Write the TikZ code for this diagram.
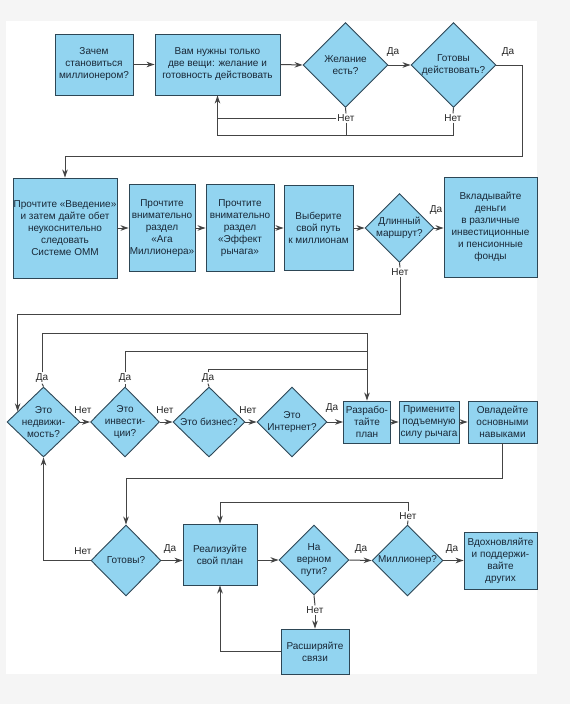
\documentclass[tikz,border=0pt]{standalone}
\usepackage{fontspec}
\setmainfont{Liberation Sans}
\usetikzlibrary{shapes.geometric,arrows.meta,calc}
\definecolor{boxfill}{RGB}{146,212,240}
\definecolor{boxline}{RGB}{45,70,85}
\definecolor{wire}{RGB}{68,68,68}
\definecolor{txt}{RGB}{25,40,55}
\definecolor{bg}{RGB}{245,245,245}
\begin{document}
\begin{tikzpicture}[x=1pt,y=-1pt,
  every node/.style={font=\fontsize{10}{12}\selectfont, text=txt},
  box/.style={draw=boxline, fill=boxfill, line width=0.9pt, inner sep=0pt, align=center},
  dia/.style={draw=boxline, fill=boxfill, line width=0.9pt, inner sep=0pt, diamond},
  dtext/.style={align=center, inner sep=0pt},
  lbl/.style={inner sep=1pt, text=black!85},
  wire/.style={draw=wire, line width=1pt},
  arr/.style={wire, -{Stealth[length=8pt,width=5.5pt]}}]
\useasboundingbox (0,0) rectangle (570,704);
\fill[bg] (0,0) rectangle (570,704);
\fill[white] (6,21) rectangle (537,674);

% Row 1
\node[box, minimum width=78pt, minimum height=61pt] (b1) at (94,64.5) {Зачем\\становиться\\миллионером?};
\node[box, minimum width=125pt, minimum height=61pt] (b2) at (217.5,64.5) {Вам нужны только\\две вещи: желание и\\готовность действовать};
\node[dia, minimum width=85pt, minimum height=85pt] (d1) at (345.5,65) {};
\node[dtext] (d1t) at (d1) {Желание\\есть?};
\node[dia, minimum width=85pt, minimum height=85pt] (d2) at (453.5,65) {};
\node[dtext] (d2t) at (d2) {Готовы\\действовать?};
\node[lbl] (y1) at (393,52) {Да};
\node[lbl] (y2) at (508,52) {Да};
\node[lbl] (n1) at (346,118) {Нет};
\node[lbl] (n2) at (453,118) {Нет};
\coordinate (r1) at (0,135);
\coordinate (c4) at (522,156);

% Row 2
\node[box, minimum width=104pt, minimum height=100pt] (b3) at (65,228) {Прочтите «Введение»\\и затем дайте обет\\неукоснительно\\следовать\\Системе ОММ};
\node[box, minimum width=66pt, minimum height=87pt] (b4) at (162,228) {Прочтите\\внимательно\\раздел\\«Ага\\Миллионера»};
\node[box, minimum width=68pt, minimum height=87pt] (b5) at (240,228) {Прочтите\\внимательно\\раздел\\«Эффект\\рычага»};
\node[box, minimum width=69pt, minimum height=85pt] (b6) at (318.5,228) {Выберите\\свой путь\\к миллионам};
\node[dia, minimum width=69pt, minimum height=69pt] (d3) at (399.5,228) {};
\node[dtext] (d3t) at (d3) {Длинный\\маршрут?};
\node[box, minimum width=93pt, minimum height=100pt] (b7) at (490.5,227) {Вкладывайте\\деньги\\в различные\\инвестиционные\\и пенсионные\\фонды};
\node[lbl] (y3) at (436,210) {Да};
\node[lbl] (n3) at (400,272) {Нет};
\coordinate (r7) at (0,314);

% Row 3
\node[dia, minimum width=73pt, minimum height=70pt] (d4) at (43.5,422) {};
\node[dtext] (d4t) at (d4) {Это\\недвижи-\\мость?};
\node[dia, minimum width=69pt, minimum height=70pt] (d5) at (125,422) {};
\node[dtext] (d5t) at (d5) {Это\\инвести-\\ции?};
\node[dia, minimum width=72pt, minimum height=70pt] (d6) at (209,422) {};
\node[dtext] (d6t) at (d6) {Это бизнес?};
\node[dia, minimum width=70pt, minimum height=70pt] (d7) at (292,422) {};
\node[dtext] (d7t) at (d7) {Это\\Интернет?};
\node[box, minimum width=47pt, minimum height=42pt] (b8) at (367,422) {Разрабо-\\тайте\\план};
\node[box, minimum width=60pt, minimum height=42pt] (b9) at (429,422) {Примените\\подъемную\\силу рычага};
\node[box, minimum width=69pt, minimum height=42pt] (b10) at (502.5,422) {Овладейте\\основными\\навыками};
\node[lbl] (y4) at (42,378) {Да};
\node[lbl] (y5) at (125,378) {Да};
\node[lbl] (y6) at (208,378) {Да};
\node[lbl] (n4) at (83,410) {Нет};
\node[lbl] (n5) at (165,410) {Нет};
\node[lbl] (n6) at (248,410) {Нет};
\node[lbl] (y7) at (332,408) {Да};
\coordinate (r9a) at (0,333);
\coordinate (r9b) at (0,351);
\coordinate (r9c) at (0,369);
\coordinate (p4) at ($(d4.west)!0.3!(d4.north)$);
\coordinate (r10) at (0,478);

% Row 4
\node[dia, minimum width=70pt, minimum height=71pt] (d8) at (126,560.5) {};
\node[dtext] (d8t) at (d8) {Готовы?};
\node[box, minimum width=74pt, minimum height=61pt] (b11) at (220,554.5) {Реализуйте\\свой план};
\node[dia, minimum width=70pt, minimum height=70pt] (d9) at (314,560) {};
\node[dtext] (d9t) at (d9) {На\\верном\\пути?};
\node[dia, minimum width=71pt, minimum height=71pt] (d10) at (407.5,560.5) {};
\node[dtext] (d10t) at (d10) {Миллионер?};
\node[box, minimum width=73pt, minimum height=57pt] (b12) at (500.5,560.5) {Вдохновляйте\\и поддержи-\\вайте\\других};
\node[box, minimum width=68pt, minimum height=45pt] (b13) at (315,651.5) {Расширяйте\\связи};
\node[lbl] (n8) at (83,551) {Нет};
\node[lbl] (y8) at (170,549) {Да};
\node[lbl] (y9) at (361,549) {Да};
\node[lbl] (n10) at (408,516) {Нет};
\node[lbl] (y10) at (452,549) {Да};
\node[lbl] (n9) at (315,610) {Нет};
\coordinate (r16) at (0,502);

% Connectors row 1
\draw[arr] (b1.east) -- (b2.west);
\draw[arr] (b2.east) -- (d1.west);
\draw[arr] (d1.east) -- (d2.west);
\draw[arr] (d2.east) -| (c4) -| (b3.north);
\draw[wire] (d1.south) -- (n1.north);
\draw[wire] (d2.south) -- (n2.north);
\draw[wire] (n1.west) -- (n1.west -| b2.south);
\draw[wire] (n1.south) -- (n1.south |- r1);
\draw[arr] (n2.south) |- (b2.south |- r1) -- (b2.south);

% Connectors row 2
\draw[arr] (b3.east) -- (b3.east -| b4.west);
\draw[arr] (b4.east) -- (b4.east -| b5.west);
\draw[arr] (b5.east) -- (b5.east -| b6.west);
\draw[arr] (b6.east) -- (b6.east -| d3.west);
\draw[arr] (d3.east) -- (d3.east -| b7.west);
\draw[wire] (d3.south) -- (n3.north);
\draw[arr] (n3.south) |- (p4 |- r7) -- (p4);

% Connectors row 3
\draw[arr] (d4.east) -- (d5.west);
\draw[arr] (d5.east) -- (d6.west);
\draw[arr] (d6.east) -- (d7.west);
\draw[arr] (d7.east) -- (d7.east -| b8.west);
\draw[arr] (b8.east) -- (b9.west);
\draw[arr] (b9.east) -- (b10.west);
\draw[wire] (d4.north) -- (y4.south);
\draw[wire] (d5.north) -- (y5.south);
\draw[wire] (d6.north) -- (y6.south);
\draw[arr] (y4.north) |- (b8.north |- r9a) -- (b8.north);
\draw[wire] (y5.north) |- (b8.north |- r9b);
\draw[wire] (y6.north) |- (b8.north |- r9c);
\draw[arr] (b10.south) |- (d8.north |- r10) -- (d8.north);

% Connectors row 4
\draw[arr] (d8.west) -| (d4.south);
\draw[arr] (d8.east) -- (d8.east -| b11.west);
\draw[arr] (b11.east |- d9.west) -- (d9.west);
\draw[arr] (d9.east) -- (d10.west);
\draw[arr] (d10.east) -- (d10.east -| b12.west);
\draw[wire] (d10.north) -- (n10.south);
\draw[arr] (n10.north) |- (b11.north |- r16) -- (b11.north);
\draw[wire] (d9.south) -- (n9.north);
\draw[arr] (n9.south) -- (n9.south |- b13.north);
\draw[arr] (b13.west) -| (b11.south);
\end{tikzpicture}
\end{document}
